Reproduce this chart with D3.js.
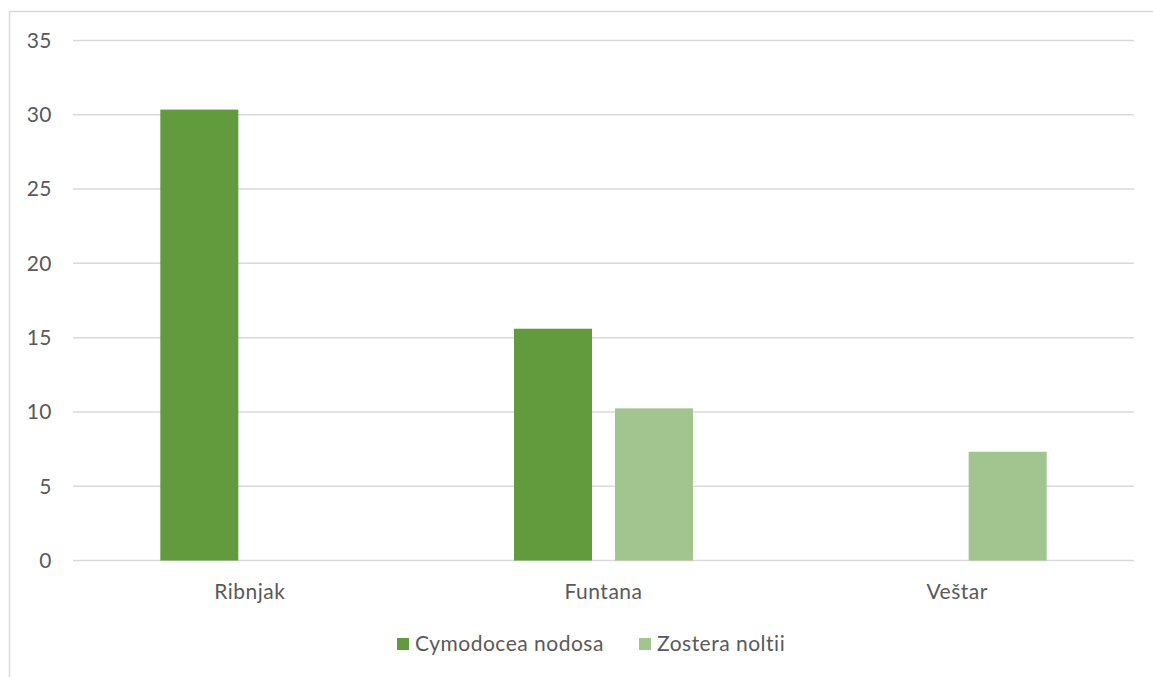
<!DOCTYPE html>
<html>
<head>
<meta charset="utf-8">
<script src="https://cdn.jsdelivr.net/npm/d3@7"></script>
<style>
	body { margin: 0; background: #fff; }
	text { font-family: Lato, "Open Sans", sans-serif; fill: #595959; letter-spacing: 0.5px; }
</style>
</head>
<body>
<div id="chart"></div>
<script>
// chart data
var sites = ["Ribnjak", "Funtana", "Veštar"];
var seriesNames = ["Cymodocea nodosa", "Zostera noltii"];
var cymodocea = [30.35, 15.6, null];
var zostera = [null, 10.24, 7.32];
var yTicks = [0, 5, 10, 15, 20, 25, 30, 35];
var colors = ["#629a3e", "#a2c48f"];

var W = 1153, H = 677;
var svg = d3.select("#chart").append("svg").attr("width", W).attr("height", H);

// outer chart border
svg.append("rect")
	.attr("x", 9.5).attr("y", 11.5)
	.attr("width", W).attr("height", H)
	.style("fill", "none").style("stroke", "#d9d9d9").style("stroke-width", 1.5);

var plotLeft = 73, plotRight = 1134, plotTop = 40.5, plotBottom = 560.5;

var x = d3.scaleBand().domain(sites).range([plotLeft, plotRight]);
var y = d3.scaleLinear().domain([0, 35]).range([plotBottom, plotTop]);
var inner = d3.scaleBand().domain(seriesNames).range([0, 179]).paddingInner(23 / 101);

// gridlines
svg.selectAll("line.grid")
	.data(yTicks)
	.enter()
	.append("line")
	.attr("x1", plotLeft).attr("x2", plotRight)
	.attr("y1", function (d) { return y(d); })
	.attr("y2", function (d) { return y(d); })
	.style("stroke", "#d9d9d9")
	.style("stroke-width", 1.5);

// y labels
svg.selectAll("text.ytick")
	.data(yTicks)
	.enter()
	.append("text")
	.attr("x", 52)
	.attr("y", function (d) { return y(d); })
	.attr("dy", "0.35em")
	.style("text-anchor", "end")
	.style("font-size", "21px")
	.text(function (d) { return d; });

// bars
var rows = [];
sites.forEach(function (s, i) {
	rows.push({ site: s, series: seriesNames[0], value: cymodocea[i], c: colors[0] });
	rows.push({ site: s, series: seriesNames[1], value: zostera[i], c: colors[1] });
});

svg.selectAll("rect.bar")
	.data(rows.filter(function (d) { return d.value != null; }))
	.enter()
	.append("rect")
	.attr("x", function (d) { return x(d.site) + x.bandwidth() / 2 - 89.5 + inner(d.series); })
	.attr("width", inner.bandwidth())
	.attr("y", function (d) { return y(d.value); })
	.attr("height", function (d) { return y(0) - y(d.value); })
	.style("fill", function (d) { return d.c; });

// category labels
svg.selectAll("text.cat")
	.data(sites)
	.enter()
	.append("text")
	.attr("x", function (d) { return x(d) + x.bandwidth() / 2; })
	.attr("y", 599)
	.style("text-anchor", "middle")
	.style("font-size", "21px")
	.text(function (d) { return d; });

// legend
var legendX = [397, 639];
seriesNames.forEach(function (name, i) {
	svg.append("rect")
		.attr("x", legendX[i]).attr("y", 638)
		.attr("width", 12).attr("height", 12)
		.style("fill", colors[i]);
	svg.append("text")
		.attr("x", legendX[i] + 18).attr("y", 651)
		.style("font-size", "21px")
		.text(name);
});
</script>
</body>
</html>
